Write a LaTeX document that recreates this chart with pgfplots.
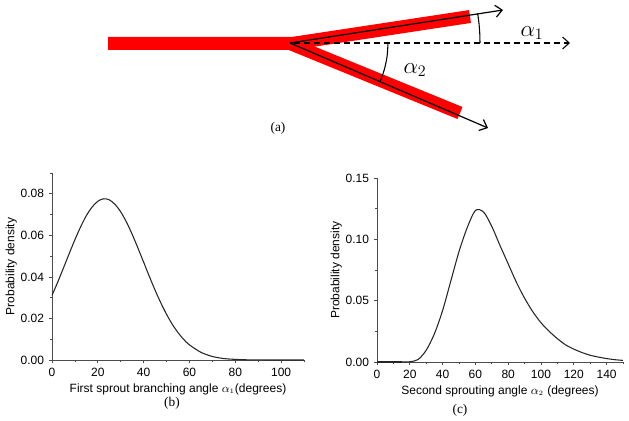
\documentclass[border=0pt]{standalone}
\usepackage{fontspec}
\setmainfont{Liberation Serif}
\newfontfamily\arial{Liberation Sans}
\usepackage{pgfplots}
\pgfplotsset{compat=1.18}
\usetikzlibrary{arrows.meta}

\pgfplotsset{panel/.style={
  scale only axis,
  axis lines=left,
  axis line style={black!70, line width=0.6pt, -},
  tick align=outside,
  major tick length=2.5pt,
  minor tick length=1.5pt,
  every tick/.style={black!70, line width=0.5pt},
  tick label style={font=\arial\fontsize{9}{10}\selectfont},
  label style={font=\arial\fontsize{9}{10}\selectfont},
  /pgf/number format/assume math mode=true,
  scaled y ticks=false,
  yticklabel style={/pgf/number format/.cd, fixed, fixed zerofill, precision=2},
  ylabel={Probability density},
  ylabel style={yshift=-4pt},
  xlabel style={yshift=1.5pt},
  clip=false,
}}

\begin{document}
\begin{tikzpicture}
\useasboundingbox (0,0) rectangle (471.75pt,-315.75pt);

% ---------- (a) schematic ----------
\begin{axis}[at={(0pt,0pt)}, anchor=north west, scale only axis,
  width=471.75pt, height=315.75pt, xmin=0, xmax=629, ymin=-421, ymax=0,
  hide axis, clip=false]
\addplot[red, line width=9.75pt, line join=bevel, line cap=butt] coordinates {(108,-43.5) (292,-43.5) (470,-16.5)};
\addplot[red, line width=9.75pt, line cap=butt] coordinates {(290,-43.5) (460,-113)};
\addplot[black, line width=0.9pt, -{Straight Barb[length=5pt,width=9pt,line width=0.9pt]}] coordinates {(290,-43) (503,-10)};
\addplot[black, line width=0.9pt, -{Straight Barb[length=5pt,width=9pt,line width=0.9pt]}] coordinates {(290,-43) (488,-128)};
\addplot[black, line width=0.8pt, dash pattern=on 4.5pt off 3pt, -{Straight Barb[length=5pt,width=9pt,line width=0.8pt]}] coordinates {(294,-43) (570,-43)};
\addplot[black, line width=0.8pt, smooth] coordinates {(480,-43) (479.74,-33.06) (478.96,-23.14) (477.66,-13.3)};
\addplot[black, line width=0.8pt, smooth] coordinates {(388,-43) (387.05,-56.64) (384.2,-70.0) (380.2,-81.3)};
\node[font=\fontsize{18}{20}\selectfont] at (axis cs:532,-33) {$\alpha_1$};
\node[font=\fontsize{18}{20}\selectfont] at (axis cs:415,-70) {$\alpha_2$};
\node[font=\fontsize{10}{12}\selectfont] at (axis cs:278,-128) {(a)};
\node[font=\fontsize{10}{12}\selectfont] at (axis cs:172,-403) {(b)};
\node[font=\fontsize{10}{12}\selectfont] at (axis cs:460,-410) {(c)};
\end{axis}

% ---------- (b) ----------
\begin{axis}[panel, at={(39pt,-270pt)}, anchor=south west,
  width=189pt, height=140.25pt,
  xmin=0, xmax=110, ymin=0, ymax=0.09,
  xtick={0,20,...,100}, minor xtick={10,30,...,110},
  ytick={0,0.02,...,0.081}, minor ytick={0.01,0.03,...,0.09},
  xlabel={First sprout branching angle $\alpha_{\scriptscriptstyle 1}$(degrees)}]
\addplot[black!85, line width=0.8pt, smooth] coordinates {
(0,0.0311)(2.5,0.0375)(5,0.0443)(7.5,0.0512)(10,0.0579)(12.5,0.0641)(15,0.0695)
(17.5,0.0736)(20,0.0764)(22.5,0.0776)(25,0.0771)(27.5,0.0749)(30,0.0713)
(32.5,0.0664)(35,0.0605)(37.5,0.0539)(40,0.0471)(42.5,0.0402)(45,0.0336)
(47.5,0.0275)(50,0.0220)(52.5,0.0172)(55,0.0132)(57.5,0.0099)(60,0.0073)
(65,0.0037)(70,0.0017)(75,0.0007)(80,0.0003)(85,0.0001)(90,0.00003)(100,0)(110,0)};
\end{axis}

% ---------- (c) ----------
\begin{axis}[panel, at={(282.75pt,-271.5pt)}, anchor=south west,
  width=184.5pt, height=138pt,
  xmin=0, xmax=150, ymin=0, ymax=0.15,
  xtick={0,20,...,140}, minor xtick={10,30,...,150},
  ytick={0,0.05,0.10,0.15}, minor ytick={0.025,0.075,0.125},
  xlabel={Second sprouting angle $\alpha_{\scriptscriptstyle 2}$ (degrees)}]
\addplot[black!85, line width=0.8pt] coordinates {(0,0)(15,0)};
\addplot[black!85, line width=0.8pt, smooth] coordinates {
(15,0)(20,0.0002)(25,0.002)(30,0.0096)(35,0.023)(40,0.042)(45,0.066)
(50,0.090)(55,0.1095)(60,0.1235)(65,0.1222)(70,0.1105)(75,0.095)
(80,0.080)(85,0.065)(90,0.052)(95,0.041)(100,0.032)(105,0.025)(110,0.019)
(115,0.014)(120,0.0105)(125,0.0077)(130,0.0055)(135,0.004)(140,0.0028)(145,0.0019)(150,0.0013)};
\end{axis}
\end{tikzpicture}
\end{document}
